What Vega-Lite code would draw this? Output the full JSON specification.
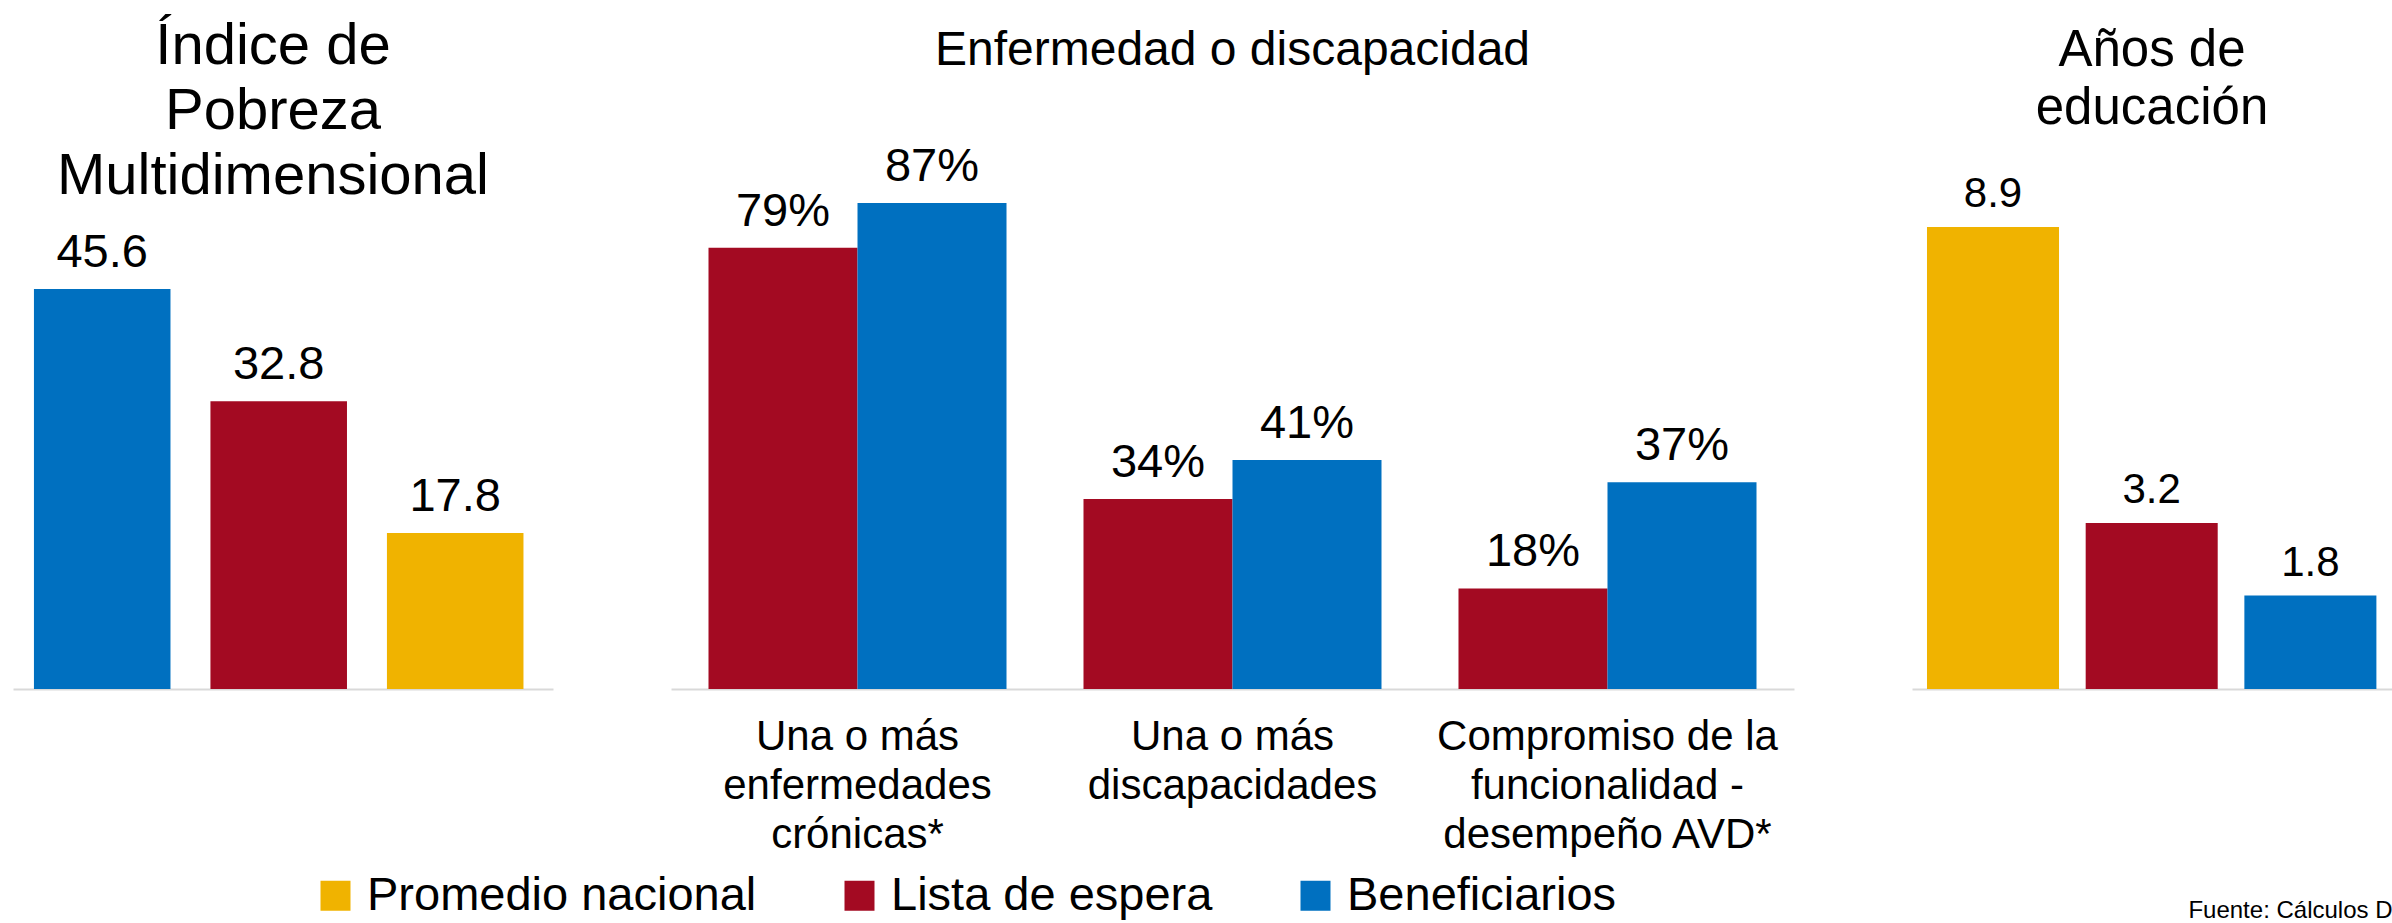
{
  "$schema": "https://vega.github.io/schema/vega-lite/v6.json",
  "padding": {"left": 13, "top": 18, "right": 0, "bottom": 0},
  "background": "white",
  "bounds": "flush",
  "spacing": 118,
  "config": {
    "font": "Liberation Sans, Arial, sans-serif",
    "view": {"stroke": null},
    "axis": {"grid": false},
    "title": {"fontWeight": "normal", "color": "#000000", "anchor": "middle", "frame": "group"},
    "legend": {
      "orient": "none",
      "legendX": 299,
      "legendY": 672,
      "direction": "horizontal",
      "symbolType": "square",
      "symbolSize": 900,
      "symbolStrokeWidth": 0,
      "symbolOpacity": 1,
      "labelFontSize": 47,
      "labelOffset": 8,
      "columnPadding": 79,
      "labelColor": "#000000",
      "labelLimit": 0,
      "padding": 0,
      "title": null
    }
  },
  "datasets": {
    "ipm": [
      {"grupo": "Beneficiarios", "valor": 45.6},
      {"grupo": "Lista de espera", "valor": 32.8},
      {"grupo": "Promedio nacional", "valor": 17.8}
    ],
    "salud": [
      {"indicador": "Una o más|enfermedades|crónicas*", "grupo": "Lista de espera", "valor": 0.79},
      {"indicador": "Una o más|enfermedades|crónicas*", "grupo": "Beneficiarios", "valor": 0.87},
      {"indicador": "Una o más|discapacidades", "grupo": "Lista de espera", "valor": 0.34},
      {"indicador": "Una o más|discapacidades", "grupo": "Beneficiarios", "valor": 0.41},
      {"indicador": "Compromiso de la|funcionalidad -|desempeño AVD*", "grupo": "Lista de espera", "valor": 0.18},
      {"indicador": "Compromiso de la|funcionalidad -|desempeño AVD*", "grupo": "Beneficiarios", "valor": 0.37}
    ],
    "edu": [
      {"grupo": "Promedio nacional", "valor": 8.9},
      {"grupo": "Lista de espera", "valor": 3.2},
      {"grupo": "Beneficiarios", "valor": 1.8}
    ]
  },
  "hconcat": [
    {
      "width": 540,
      "height": 489,
      "title": {"text": ["Índice de", "Pobreza", "Multidimensional"], "fontSize": 58, "lineHeight": 65, "offset": -6, "dx": -10},
      "data": {"name": "ipm"},
      "encoding": {
        "x": {
          "field": "grupo", "type": "nominal",
          "sort": ["Beneficiarios", "Lista de espera", "Promedio nacional"],
          "scale": {"paddingInner": 0.2264, "paddingOuter": 0.143, "align": 0.415},
          "axis": {"labels": false, "ticks": false, "title": null, "domainColor": "#d9d9d9", "domainWidth": 2}
        },
        "y": {"field": "valor", "type": "quantitative", "scale": {"domain": [0, 55.76]}, "axis": null}
      },
      "layer": [
        {
          "mark": {"type": "bar"},
          "encoding": {
            "color": {
              "field": "grupo", "type": "nominal",
              "scale": {"domain": ["Promedio nacional", "Lista de espera", "Beneficiarios"], "range": ["#F0B300", "#A30A22", "#0070C0"]}
            }
          }
        },
        {
          "mark": {"type": "text", "dy": -22, "baseline": "alphabetic", "fontSize": 47, "color": "#000000"},
          "encoding": {"text": {"field": "valor", "type": "quantitative", "format": ".1f"}}
        }
      ]
    },
    {
      "width": 1123,
      "height": 489,
      "title": {"text": "Enfermedad o discapacidad", "fontSize": 48, "offset": 68},
      "data": {"name": "salud"},
      "encoding": {
        "x": {
          "field": "indicador", "type": "nominal",
          "sort": ["Una o más|enfermedades|crónicas*", "Una o más|discapacidades", "Compromiso de la|funcionalidad -|desempeño AVD*"],
          "scale": {"paddingInner": 0.2053, "paddingOuter": 0.1},
          "axis": {
            "title": null, "ticks": false, "labelAngle": 0,
            "labelExpr": "split(datum.label, '|')",
            "labelFontSize": 42, "labelLineHeight": 49, "labelColor": "#000000",
            "labelPadding": 27, "labelLimit": 0,
            "domainColor": "#d9d9d9", "domainWidth": 2
          }
        },
        "xOffset": {
          "field": "grupo", "type": "nominal",
          "sort": ["Lista de espera", "Beneficiarios"],
          "scale": {"paddingInner": 0, "paddingOuter": 0}
        },
        "y": {"field": "valor", "type": "quantitative", "scale": {"domain": [0, 0.8755]}, "axis": null}
      },
      "layer": [
        {
          "mark": {"type": "bar"},
          "encoding": {
            "color": {
              "field": "grupo", "type": "nominal",
              "scale": {"domain": ["Promedio nacional", "Lista de espera", "Beneficiarios"], "range": ["#F0B300", "#A30A22", "#0070C0"]}
            }
          }
        },
        {
          "mark": {"type": "text", "dy": -22, "baseline": "alphabetic", "fontSize": 47, "color": "#000000"},
          "encoding": {"text": {"field": "valor", "type": "quantitative", "format": ".0%"}}
        }
      ]
    },
    {
      "width": 480,
      "height": 489,
      "title": {"text": ["Años de", "educación"], "fontSize": 51, "lineHeight": 58, "offset": 38},
      "data": {"name": "edu"},
      "encoding": {
        "x": {
          "field": "grupo", "type": "nominal",
          "sort": ["Promedio nacional", "Lista de espera", "Beneficiarios"],
          "scale": {"paddingInner": 0.168, "paddingOuter": 0.0964, "align": 0.49},
          "axis": {
            "labels": false, "ticks": false,
            "title": "Fuente:  Cálculos D", "titleAnchor": "end", "titleFontSize": 24,
            "titleFontWeight": "normal", "titleColor": "#000000", "titlePadding": 209,
            "domainColor": "#d9d9d9", "domainWidth": 2
          }
        },
        "y": {"field": "valor", "type": "quantitative", "scale": {"domain": [0, 9.42]}, "axis": null}
      },
      "layer": [
        {
          "mark": {"type": "bar"},
          "encoding": {
            "color": {
              "field": "grupo", "type": "nominal",
              "scale": {"domain": ["Promedio nacional", "Lista de espera", "Beneficiarios"], "range": ["#F0B300", "#A30A22", "#0070C0"]}
            }
          }
        },
        {
          "mark": {"type": "text", "dy": -20, "baseline": "alphabetic", "fontSize": 42, "color": "#000000"},
          "encoding": {"text": {"field": "valor", "type": "quantitative", "format": ".1f"}}
        }
      ]
    }
  ]
}
